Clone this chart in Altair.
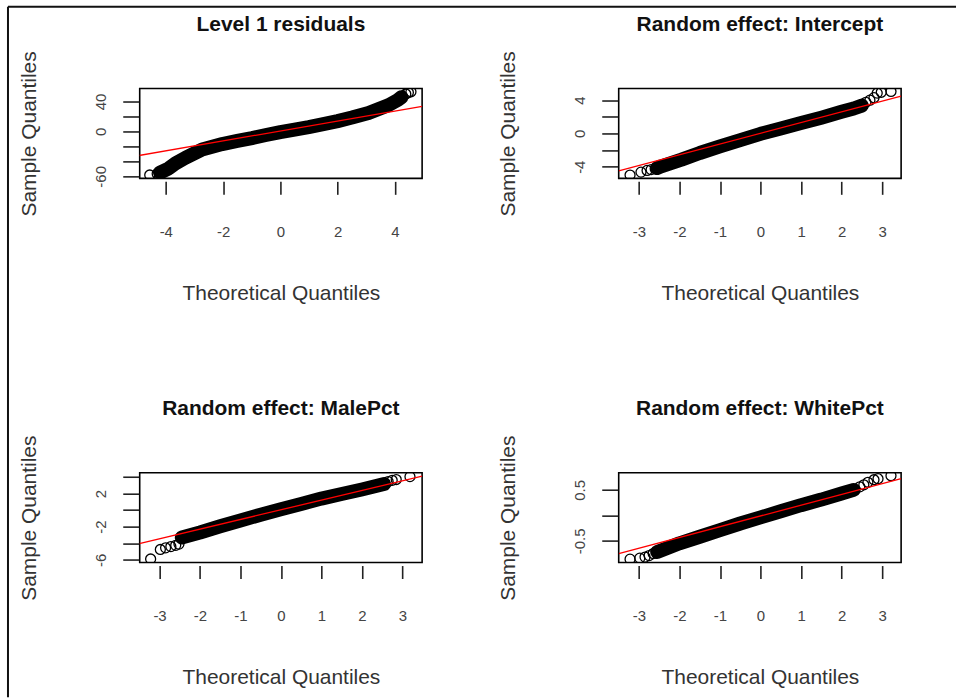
import altair as alt
import pandas as pd

FONT = "Liberation Sans"

# ---------------- data ----------------
titles = ["Level 1 residuals", "Random effect: Intercept",
          "Random effect: MalePct", "Random effect: WhitePct"]

# Level 1 residuals: dense band (theoretical, sample) and isolated tail points
l1_band_x = [-4.2, -3.9, -3.66, -3.31, -2.73, -2.03, -1.5, -0.99, -0.5, 0.0, 0.5, 0.99, 1.5, 2.0, 2.5, 3.08, 3.77, 4.1, 4.23]
l1_band_y = [-55.0, -49.5, -42.7, -35.1, -24.0, -16.9, -12.7, -8.9, -4.8, -0.9, 2.5, 5.8, 9.7, 13.8, 18.5, 24.5, 35.0, 42.0, 45.8]
l1_tail_x = [-4.56, -4.3, 4.38, 4.47, 4.56]
l1_tail_y = [-58.2, -56.4, 50.0, 52.0, 53.0]
l1_line_x = [-4.95, 4.95]
l1_line_y = [-32.3, 33.5]

# Random effect: Intercept
ic_band_x = [-2.55, -2.45, -1.95, -1.5, -1.0, -0.5, 0.0, 0.5, 1.0, 1.5, 2.0, 2.3, 2.5]
ic_band_y = [-4.15, -3.95, -3.15, -2.35, -1.55, -0.8, -0.05, 0.6, 1.25, 1.9, 2.6, 3.0, 3.35]
ic_tail_x = [-3.22, -2.95, -2.8, -2.7, -2.6, 2.6, 2.7, 2.8, 2.88, 2.98, 3.22]
ic_tail_y = [-5.0, -4.65, -4.45, -4.35, -4.25, 3.75, 4.0, 4.3, 4.85, 4.95, 5.05]
ic_line_x = [-3.5, 3.47]
ic_line_y = [-4.5, 4.5]

# Random effect: MalePct
mp_band_x = [-2.45, -2.0, -1.5, -1.0, -0.5, 0.0, 0.5, 1.0, 1.5, 2.0, 2.3, 2.55]
mp_band_y = [-3.3, -2.7, -1.95, -1.25, -0.55, 0.1, 0.75, 1.4, 1.95, 2.5, 2.85, 3.15]
mp_tail_x = [-3.22, -2.98, -2.85, -2.72, -2.6, -2.52, 2.65, 2.75, 2.85, 3.19]
mp_tail_y = [-5.9, -4.75, -4.55, -4.4, -4.25, -4.1, 3.45, 3.6, 3.7, 4.05]
mp_line_x = [-3.5, 3.49]
mp_line_y = [-4.04, 4.12]

# Random effect: WhitePct
wp_band_x = [-2.55, -2.0, -1.5, -1.0, -0.5, 0.0, 0.5, 1.0, 1.5, 2.0, 2.3]
wp_band_y = [-0.72, -0.55, -0.42, -0.29, -0.16, -0.04, 0.08, 0.2, 0.31, 0.43, 0.5]
wp_tail_x = [-3.22, -2.98, -2.85, -2.75, -2.65, 2.45, 2.55, 2.65, 2.8, 2.9, 3.22]
wp_tail_y = [-0.86, -0.84, -0.82, -0.79, -0.75, 0.56, 0.6, 0.65, 0.7, 0.72, 0.78]
wp_line_x = [-3.5, 3.47]
wp_line_y = [-0.75, 0.72]

# axis ticks and which of them carry labels
l1_xticks = [-4, -2, 0, 2, 4]
re_xticks = [-3, -2, -1, 0, 1, 2, 3]
l1_yticks, l1_ylabels = [-60, -40, -20, 0, 20, 40], [-60, 0, 40]
ic_yticks, ic_ylabels = [-4, -2, 0, 2, 4], [-4, 0, 4]
mp_yticks, mp_ylabels = [-6, -4, -2, 0, 2, 4], [-6, -2, 2]
wp_yticks, wp_ylabels = [-0.5, 0, 0.5], [-0.5, 0.5]

# plotted ranges (R extends the data range by 4%)
l1_xdom, l1_ydom = [-4.91, 4.95], [-62.7, 57.3]
ic_xdom, ic_ydom = [-3.5, 3.47], [-5.4, 5.4]
mp_xdom, mp_ydom = [-3.49, 3.49], [-6.33, 4.52]
wp_xdom, wp_ydom = [-3.5, 3.47], [-0.927, 0.837]

W, H = 283, 90


def panel(title, bx, by, tx, ty, lx, ly, xdom, ydom, xticks, yticks, ylabels, frame=False):
    band = pd.DataFrame({"x": bx, "y": by})
    tail = pd.DataFrame({"x": tx, "y": ty})
    ref = pd.DataFrame({"x": lx, "y": ly})
    lab_list = ",".join(str(v) for v in ylabels)
    xax = alt.Axis(values=xticks, labelExpr="'' + datum.value", grid=False, domain=False,
                   tickSize=13, tickWidth=1.6, tickColor="#222", offset=3,
                   labelFontSize=15, labelColor="#444", labelFont=FONT, labelPadding=30,
                   labelBaseline="top", labelFlush=False, labelOverlap=False,
                   title="Theoretical Quantiles", titleFontSize=21, titleFont=FONT,
                   titleFontWeight="normal", titleColor="#333", titleX=W / 2, titleY=112,
                   titleAlign="center", titleBaseline="middle")
    yax = alt.Axis(values=yticks,
                   labelExpr="indexof([" + lab_list + "], datum.value) >= 0 ? '' + datum.value : ''",
                   grid=False, domain=False, tickSize=16, tickWidth=1.6, tickColor="#222", offset=1,
                   labelAngle=270, labelAlign="center", labelBaseline="bottom", labelPadding=14,
                   labelFontSize=15, labelColor="#444", labelFont=FONT, labelFlush=False,
                   labelOverlap=False,
                   title="Sample Quantiles", titleFontSize=21, titleFont=FONT,
                   titleFontWeight="normal", titleColor="#333", titleAngle=270,
                   titleX=-109, titleY=H / 2, titleAlign="center", titleBaseline="middle")
    xs = alt.Scale(domain=xdom, nice=False, zero=False)
    ys = alt.Scale(domain=ydom, nice=False, zero=False)
    xe = alt.X("x:Q", scale=xs, axis=xax)
    ye = alt.Y("y:Q", scale=ys, axis=yax)

    band_l = alt.Chart(band).mark_line(color="black", strokeWidth=14, strokeCap="round",
                                       strokeJoin="round", clip=True).encode(x=xe, y=ye)
    tail_l = alt.Chart(tail).mark_point(shape="circle", filled=False, size=100, strokeWidth=1.3,
                                        color="black", opacity=1, clip=True).encode(x=xe, y=ye)
    ref_l = alt.Chart(ref).mark_line(color="#ff0000", strokeWidth=1.3, clip=True).encode(x=xe, y=ye)
    title_l = alt.Chart(pd.DataFrame({"t": [title]})).mark_text(
        fontSize=21, fontWeight="bold", font=FONT, align="center", baseline="middle", color="#111"
    ).encode(x=alt.value(W / 2), y=alt.value(-64), text="t:N")
    layers = [band_l, tail_l, ref_l, title_l]
    if frame:
        one = pd.DataFrame({"a": [0]})
        top = alt.Chart(one).mark_rule(color="#111", strokeWidth=2).encode(
            x=alt.value(-132), x2=alt.value(818), y=alt.value(-82))
        left = alt.Chart(one).mark_rule(color="#111", strokeWidth=2).encode(
            x=alt.value(-132), y=alt.value(-82), y2=alt.value(610))
        layers += [top, left]
    return alt.layer(*layers).properties(width=W, height=H)


p1 = panel(titles[0], l1_band_x, l1_band_y, l1_tail_x, l1_tail_y, l1_line_x, l1_line_y,
           l1_xdom, l1_ydom, l1_xticks, l1_yticks, l1_ylabels, frame=True)
p2 = panel(titles[1], ic_band_x, ic_band_y, ic_tail_x, ic_tail_y, ic_line_x, ic_line_y,
           ic_xdom, ic_ydom, re_xticks, ic_yticks, ic_ylabels)
p3 = panel(titles[2], mp_band_x, mp_band_y, mp_tail_x, mp_tail_y, mp_line_x, mp_line_y,
           mp_xdom, mp_ydom, re_xticks, mp_yticks, mp_ylabels)
p4 = panel(titles[3], wp_band_x, wp_band_y, wp_tail_x, wp_tail_y, wp_line_x, wp_line_y,
           wp_xdom, wp_ydom, re_xticks, wp_yticks, wp_ylabels)

chart = alt.concat(p1, p2, p3, p4, columns=2, spacing={"row": 295, "column": 197},
                   bounds="flush").properties(
    padding={"left": 6, "top": 4, "right": 0, "bottom": 0}
).configure(background="white").configure_view(stroke="#000", strokeWidth=1.6)

chart.save("out.html", embed_options={"renderer": "svg", "actions": False})
